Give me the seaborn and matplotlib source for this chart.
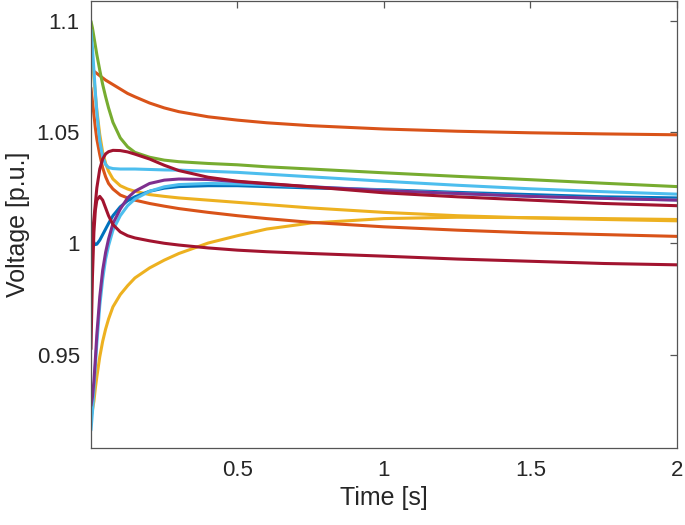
import pandas as pd
import seaborn as sns
import matplotlib.pyplot as plt

# sample times [s]
t = [0, 0.005, 0.01, 0.015, 0.02, 0.03, 0.04, 0.05, 0.06, 0.075, 0.1, 0.125, 0.15,
     0.2, 0.25, 0.3, 0.4, 0.5, 0.6, 0.75, 1.0, 1.25, 1.5, 1.75, 2.0]

# bus voltages [p.u.]
v_orange1 = [1.078, 1.0778, 1.0775, 1.077, 1.0765, 1.0755, 1.0745, 1.0735, 1.0727,
             1.0715, 1.0695, 1.0675, 1.066, 1.0632, 1.061, 1.0593, 1.057, 1.0555,
             1.0543, 1.053, 1.0515, 1.0505, 1.0498, 1.0493, 1.0489]
v_green = [1.100, 1.097, 1.093, 1.089, 1.085, 1.078, 1.0715, 1.066, 1.061, 1.0545,
           1.0475, 1.0435, 1.041, 1.0388, 1.0375, 1.0368, 1.036, 1.0354, 1.0345,
           1.0335, 1.0318, 1.0302, 1.0287, 1.0271, 1.0256]
v_lblue1 = [1.096, 1.088, 1.078, 1.068, 1.059, 1.046, 1.039, 1.0355, 1.0342, 1.0337,
            1.0335, 1.0335, 1.0335, 1.0333, 1.0331, 1.033, 1.0325, 1.032, 1.0312,
            1.030, 1.028, 1.0262, 1.0246, 1.0233, 1.0222]
v_yellow1 = [1.090, 1.083, 1.075, 1.067, 1.060, 1.049, 1.041, 1.036, 1.0325, 1.029,
             1.026, 1.0245, 1.0235, 1.022, 1.0212, 1.0205, 1.0195, 1.0185, 1.0175,
             1.016, 1.014, 1.0125, 1.0115, 1.0108, 1.0102]
v_orange2 = [1.070, 1.064, 1.058, 1.052, 1.047, 1.040, 1.034, 1.030, 1.027, 1.0245,
             1.0218, 1.0205, 1.0195, 1.018, 1.0168, 1.0157, 1.014, 1.0125, 1.0112,
             1.0095, 1.0075, 1.006, 1.0048, 1.004, 1.0032]
v_blue = [1.007, 1.003, 1.0003, 0.9995, 0.9997, 1.0015, 1.004, 1.0065, 1.009, 1.0125,
          1.0165, 1.0192, 1.021, 1.0235, 1.0249, 1.0256, 1.026, 1.026, 1.0256,
          1.025, 1.0242, 1.023, 1.022, 1.021, 1.0205]
v_lblue2 = [0.916, 0.924, 0.934, 0.945, 0.955, 0.972, 0.984, 0.993, 0.999, 1.006,
            1.0125, 1.017, 1.020, 1.0235, 1.0255, 1.0265, 1.027, 1.0268, 1.0263,
            1.0255, 1.024, 1.0225, 1.0212, 1.0203, 1.0196]
v_purple = [0.927, 0.931, 0.938, 0.948, 0.959, 0.976, 0.988, 0.996, 1.002, 1.009,
            1.0155, 1.0205, 1.0235, 1.027, 1.0285, 1.029, 1.0288, 1.0278, 1.0268,
            1.0255, 1.0238, 1.0225, 1.0212, 1.0203, 1.0195]
v_yellow2 = [0.922, 0.925, 0.929, 0.935, 0.940, 0.949, 0.956, 0.9615, 0.966, 0.9715,
             0.977, 0.981, 0.9845, 0.989, 0.9925, 0.9955, 1.0002, 1.0035, 1.0065,
             1.0092, 1.0112, 1.0118, 1.0116, 1.0112, 1.0108]
v_dred1 = [1.000, 1.004, 1.011, 1.018, 1.025, 1.0335, 1.038, 1.0403, 1.0413, 1.0419,
           1.0418, 1.0412, 1.0402, 1.038, 1.0352, 1.0328, 1.0298, 1.028, 1.027,
           1.0255, 1.0228, 1.021, 1.0195, 1.018, 1.017]
v_dred2 = [0.9525, 0.985, 1.005, 1.015, 1.0195, 1.0212, 1.0195, 1.016, 1.0125, 1.0085,
           1.0052, 1.0035, 1.0025, 1.0012, 1.0001, 0.9993, 0.998, 0.997, 0.9963,
           0.9955, 0.9943, 0.993, 0.992, 0.991, 0.9904]

series = {
    'yellow2': (v_yellow2, '#EDB120'),
    'orange1': (v_orange1, '#D95319'),
    'orange2': (v_orange2, '#D95319'),
    'yellow1': (v_yellow1, '#EDB120'),
    'green': (v_green, '#77AC30'),
    'lblue1': (v_lblue1, '#4DBEEE'),
    'blue': (v_blue, '#0072BD'),
    'lblue2': (v_lblue2, '#4DBEEE'),
    'purple': (v_purple, '#7E2F8E'),
    'dred1': (v_dred1, '#A2142F'),
    'dred2': (v_dred2, '#A2142F'),
}

rows = []
for name, (vals, _) in series.items():
    for ti, vi in zip(t, vals):
        rows.append({'t': ti, 'v': vi, 'bus': name})
df = pd.DataFrame(rows)
palette = {name: c for name, (_, c) in series.items()}

sns.set_style('white')
plt.rcParams['font.family'] = ['Liberation Sans', 'DejaVu Sans']

fig = plt.figure(figsize=(6.85, 5.25), dpi=100)
ax = fig.add_axes([0.1328, 0.1467, 0.8555, 0.851])

sns.lineplot(data=df, x='t', y='v', hue='bus', hue_order=list(series),
             palette=palette, linewidth=2.2, legend=False, ax=ax)

ax.set_xlim(0, 2)
ax.set_ylim(0.908, 1.109)
ax.set_xticks([0.5, 1, 1.5, 2])
ax.set_xticklabels(['0.5', '1', '1.5', '2'])
ax.set_yticks([0.95, 1.0, 1.05, 1.1])
ax.set_yticklabels(['0.95', '1', '1.05', '1.1'])

for s in ax.spines.values():
    s.set_visible(True)
    s.set_color('#555555')
    s.set_linewidth(0.9)
ax.tick_params(axis='both', which='both', direction='in', length=5, width=0.9,
               color='#555555', labelsize=16, labelcolor='#262626',
               top=True, right=True)
ax.tick_params(axis='x', pad=9)
ax.tick_params(axis='y', pad=8)

ax.set_xlabel('Time [s]', fontsize=18, color='#262626', labelpad=3)
ax.set_ylabel('Voltage [p.u.]', fontsize=18, color='#262626', labelpad=5)

fig.savefig('out.png', dpi=100)
